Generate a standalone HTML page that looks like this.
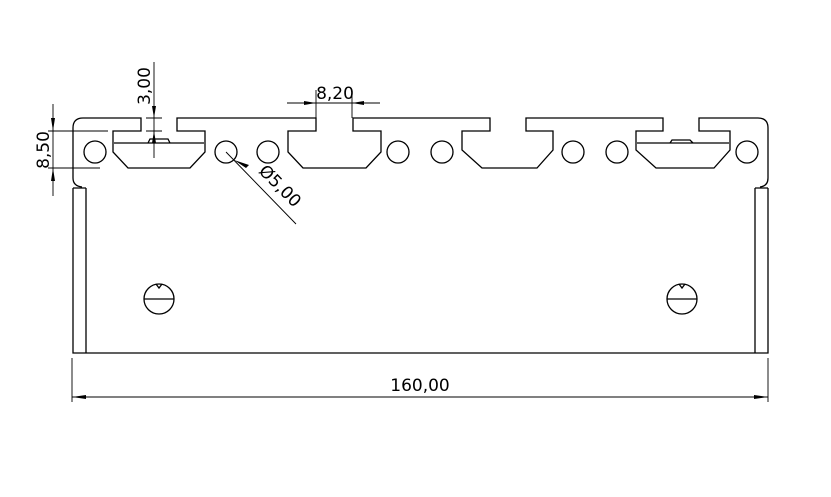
<!DOCTYPE html>
<html><head><meta charset="utf-8"><style>
html,body{margin:0;padding:0;background:#fff;}
svg{display:block;}
text{font-family:"DejaVu Sans","Liberation Sans",sans-serif;font-size:17px;fill:#000;}
</style></head><body>
<svg width="831" height="497" viewBox="0 0 831 497" xmlns="http://www.w3.org/2000/svg">
<g fill="none" stroke="#000" stroke-width="1.3">
<!-- profile outline -->
<path d="M83,118 L141,118 L141,131 L113,131 L113,152 L128,168 L190,168 L205,152 L205,131 L177,131 L177,118
 L316,118 L316,131 L288,131 L288,152 L303,168 L366,168 L381,152 L381,131 L353,131 L353,118
 L490,118 L490,131 L462,131 L462,150 L482,168 L537,168 L553,150 L553,131 L526,131 L526,118
 L663,118 L663,131 L636,131 L636,150 L656,168 L714,168 L730,150 L730,131 L699,131 L699,118
 L758,118 Q768,118 768,128 L768,178 Q768,186 760,187"/>
<path d="M83,118 Q73,118 73,128 L73,178 Q73,186 82,187"/>
<!-- inserts -->
<path d="M114,143 L204,143 M148,143 L150,139 L168,139 L170,143"/>
<path d="M637,143 L729,143 M670,143 L672,140 L690,140 L693,143"/>
<!-- holes -->
<circle cx="95" cy="152" r="11"/><circle cx="226" cy="152" r="11"/><circle cx="268" cy="152" r="11"/>
<circle cx="398" cy="152" r="11"/><circle cx="442" cy="152" r="11"/><circle cx="573" cy="152" r="11"/>
<circle cx="617" cy="152" r="11"/><circle cx="747" cy="152" r="11"/>
<!-- lower body -->
<path d="M73,188 L73,353 L768,353 L768,188 M86,188 L86,353 M755,188 L755,353 M73,188 L86,188 M755,188 L768,188"/>
<circle cx="159" cy="299" r="15"/><path d="M144,299 L174,299 M156,284 L159,288 L162,284"/>
<circle cx="682" cy="299" r="15"/><path d="M667,299 L697,299 M679,284 L682,288 L685,284"/>
</g>
<g fill="none" stroke="#000" stroke-width="0.9">
<!-- 160 dim -->
<path d="M72,358 L72,402 M768,358 L768,402 M72,397 L768,397"/>
<!-- 8,50 -->
<path d="M53,104 L53,196 M48,131 L108,131 M48,168 L100,168"/>
<!-- 3,00 -->
<path d="M154,62 L154,158 M146,118 L162,118 M146,131 L162,131"/>
<!-- 8,20 -->
<path d="M287,103 L380,103 M316,90 L316,118 M352,90 L352,118"/>
<!-- 5,00 leader -->
<path d="M226,152 L296,224"/>
</g>
<g fill="#000">
<path d="M72,397 L86,395 L86,399Z M768,397 L754,395 L754,399Z"/>
<path d="M53,131 L51,118 L55,118Z M53,168 L51,181 L55,181Z"/>
<path d="M154,118 L152,106 L156,106Z M154,131 L152,143 L156,143Z"/>
<path d="M316,103 L304,101 L304,105Z M352,103 L364,101 L364,105Z"/>
<path d="M234,160 L246,168 L249,165Z"/>
</g>
<text x="420" y="391" text-anchor="middle">160,00</text>
<text x="335" y="99" text-anchor="middle">8,20</text>
<text transform="translate(49,150) rotate(-90)" text-anchor="middle">8,50</text>
<text transform="translate(150,86) rotate(-90)" text-anchor="middle">3,00</text>
<text transform="translate(276,190) rotate(45)" text-anchor="middle">Ø5,00</text>
</svg>
</body></html>
